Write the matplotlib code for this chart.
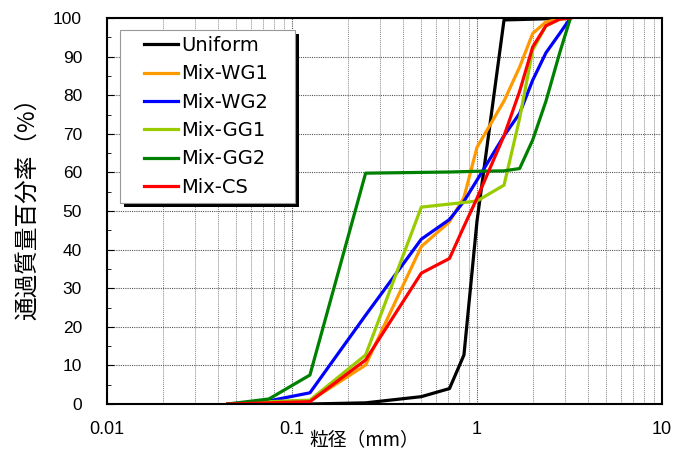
import numpy as np
import matplotlib
matplotlib.use("Agg")
import matplotlib.pyplot as plt
from matplotlib.ticker import FixedLocator, NullFormatter, LogLocator
from matplotlib.patches import Rectangle

plt.rcParams['font.family'] = ['Liberation Sans', 'Noto Sans CJK JP', 'DejaVu Sans']

# sieve sizes (mm)
sizes = [0.045, 0.075, 0.125, 0.25, 0.5, 0.71, 0.85, 1.0, 1.4, 1.7, 2.0, 2.36, 2.8, 3.2]

series_names = ["Uniform", "Mix-WG1", "Mix-WG2", "Mix-GG1", "Mix-GG2", "Mix-CS"]
uniform = [0, 0, 0, 0.3, 1.9, 4.0, 12.7, 47.4, 99.5, 99.6, 99.7, 99.8, 99.9, 100]
mix_wg1 = [0, 0.5, 0.8, 10.1, 40.8, 47.2, 53.5, 66.5, 78.5, 87.3, 96, 99, 99.7, 100]
mix_wg2 = [0, 0.8, 2.9, 23, 42.7, 47.8, 52.5, 58, 69.5, 75.3, 83.9, 91, 96, 100]
mix_gg1 = [0, 0.6, 1.0, 12.7, 51, 51.8, 52.2, 52.6, 56.7, 74, 91.7, 98, 99.7, 100]
mix_gg2 = [0, 1.3, 7.5, 59.8, 60, 60.1, 60.2, 60.3, 60.4, 61, 68.4, 78.5, 91, 100]
mix_cs = [0, 0.3, 0.6, 11.4, 33.9, 37.7, 46, 53.3, 69.5, 81, 92.5, 98, 99.7, 100]

colors = ["#000000", "#FF9900", "#0000FF", "#99CC00", "#008000", "#FF0000"]

x_ticks = [0.01, 0.1, 1, 10]
x_ticklabels = ["0.01", "0.1", "1", "10"]
y_ticks = list(range(0, 101, 10))

W, H = 674, 453
fig = plt.figure(figsize=(W/100, H/100), dpi=100)
ax = fig.add_axes([107/W, 1-404/H, (662-107)/W, (404-18)/H])

all_series = [uniform, mix_wg1, mix_wg2, mix_gg1, mix_gg2, mix_cs]
for name, vals, c in zip(series_names, all_series, colors):
    ax.plot(sizes, vals, color=c, lw=2.3, label=name)

ax.set_xscale('log')
ax.set_xlim(0.01, 10)
ax.set_ylim(0, 100)
ax.set_xticks(x_ticks)
ax.set_xticklabels(x_ticklabels)
ax.xaxis.set_minor_locator(LogLocator(base=10, subs=np.arange(2, 10)))
ax.xaxis.set_minor_formatter(NullFormatter())
ax.set_yticks(y_ticks)
ax.yaxis.set_minor_locator(FixedLocator(list(range(5, 100, 10))))

ax.tick_params(axis='x', which='both', length=0, labelsize=13, pad=12)
ax.tick_params(axis='y', which='major', direction='in', length=5, labelsize=12.5, pad=18)
ax.tick_params(axis='y', which='minor', direction='in', length=3)

ax.grid(True, which='major', color='#555555', linestyle=(0, (1, 1)), lw=0.8)
ax.grid(True, which='minor', axis='x', color='#888888', linestyle=(0, (1, 1)), lw=0.7)
ax.set_axisbelow(True)

for s in ax.spines.values():
    s.set_linewidth(1.5)
    s.set_color('black')

# legend frame with solid shadow (pixel coords from top-left)
def fig_rect(x0, y0, x1, y1, **kw):
    return Rectangle((x0/W, 1-y1/H), (x1-x0)/W, (y1-y0)/H,
                     transform=fig.transFigure, clip_on=False, **kw)

ax.add_patch(fig_rect(124, 34, 299, 207, facecolor='black', edgecolor='none', zorder=4))
ax.add_patch(fig_rect(120, 30, 295, 203, facecolor='white', edgecolor='#999999', lw=0.8, zorder=4.2))

leg = ax.legend(loc='upper left', bbox_to_anchor=(144/W, 1-36/H),
                bbox_transform=fig.transFigure, borderaxespad=0, borderpad=0,
                prop={'family': 'DejaVu Sans', 'size': 14}, frameon=False,
                handlelength=1.75, handletextpad=0.15, labelspacing=0.48)
leg.set_zorder(5)
for line in leg.get_lines():
    line.set_linewidth(2.3)

fig.text(28/W, 1-203/H, "通過質量百分率（%）", rotation=90, ha='center', va='center',
         fontsize=17, family=['Noto Sans CJK JP', 'DejaVu Sans'])
fig.text(364/W, 1-441/H, "粒径（mm）", ha='center', va='center', fontsize=13.5,
         family=['Noto Sans CJK JP', 'DejaVu Sans'])

fig.savefig("out.png", dpi=100)
